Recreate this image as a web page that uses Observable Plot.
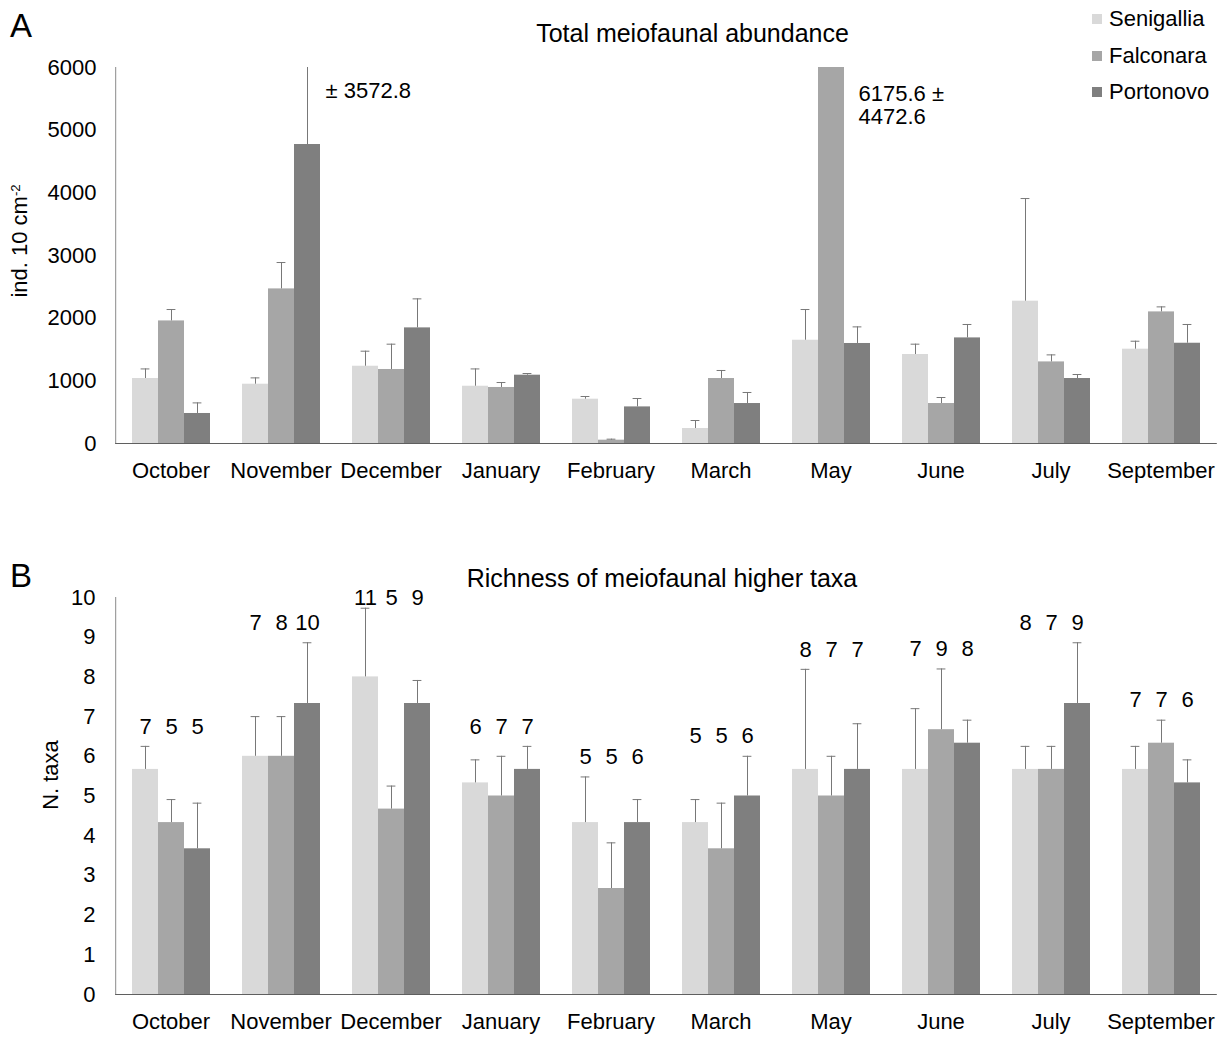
<!DOCTYPE html>
<html>
<head>
<meta charset="utf-8">
<script src="https://cdn.jsdelivr.net/npm/d3@7"></script>
<script src="https://cdn.jsdelivr.net/npm/@observablehq/plot@0.6"></script>
<style>
  html, body { margin: 0; padding: 0; background: #fff; }
  #wrap { position: relative; width: 1229px; height: 1039px; overflow: hidden;
          font-family: "Liberation Sans", Arial, sans-serif; color: #000; }
  #wrap svg { position: absolute; left: 0; }
  .txt { position: absolute; line-height: 1; white-space: nowrap; }
  .swatch { position: absolute; width: 10px; height: 10px; }
</style>
</head>
<body>
<div id="wrap"></div>
<script>
// Sampling months and sites
const months = ["October", "November", "December", "January", "February",
                "March", "May", "June", "July", "September"];
const sites = ["Senigallia", "Falconara", "Portonovo"];
const siteColors = ["#d9d9d9", "#a6a6a6", "#7f7f7f"];

// Total meiofaunal abundance (ind. 10 cm-2), mean and standard deviation
const abundanceSenigallia   = [1037, 946, 1233, 914, 707, 239, 1648, 1420, 2271, 1505];
const abundanceSenigalliaSd = [153, 101, 240, 276, 43, 128, 490, 165, 1638, 127];
const abundanceFalconara    = [1956, 2467, 1181, 894, 53, 1037, 6175.6, 638, 1302, 2100];
const abundanceFalconaraSd  = [182, 421, 404, 79, 16, 128, 4472.6, 96, 112, 80];
const abundancePortonovo    = [479, 4771, 1845, 1090, 584, 638, 1596, 1685, 1037, 1600];
const abundancePortonovoSd  = [169, 3572.8, 463, 27, 134, 176, 265, 214, 64, 299];
const abundanceTicks = [0, 1000, 2000, 3000, 4000, 5000, 6000];

// Richness of meiofaunal higher taxa: mean, standard deviation, total taxa found
const richnessSenigallia   = [5.67, 6, 8, 5.33, 4.33, 4.33, 5.67, 5.67, 5.67, 5.67];
const richnessSenigalliaSd = [0.58, 1, 1.73, 0.58, 1.15, 0.58, 2.52, 1.53, 0.58, 0.58];
const richnessFalconara    = [4.33, 6, 4.67, 5, 2.67, 3.67, 5, 6.67, 5.67, 6.33];
const richnessFalconaraSd  = [0.58, 1, 0.58, 1, 1.15, 1.15, 1, 1.53, 0.58, 0.58];
const richnessPortonovo    = [3.67, 7.33, 7.33, 5.67, 4.33, 5, 5.67, 6.33, 7.33, 5.33];
const richnessPortonovoSd  = [1.15, 1.53, 0.58, 0.58, 0.58, 1, 1.15, 0.58, 1.53, 0.58];
const taxaSenigallia = [7, 7, 11, 6, 5, 5, 8, 7, 8, 7];
const taxaFalconara  = [5, 8, 5, 7, 5, 5, 7, 9, 7, 7];
const taxaPortonovo  = [5, 10, 9, 7, 6, 6, 7, 8, 9, 6];
const richnessTicks = [0, 1, 2, 3, 4, 5, 6, 7, 8, 9, 10];

// Off-scale values annotated in panel A
const abundanceNotes = [
  {month: "November", site: "Portonovo", withMean: false},
  {month: "May", site: "Falconara", withMean: true}
];

function buildRows(means, sds, counts) {
  const rows = [];
  months.forEach((month, i) => sites.forEach((site, j) => {
    rows.push({month, site, mean: means[j][i], sd: sds[j][i], count: counts ? counts[j][i] : null});
  }));
  return rows;
}

const rowsA = buildRows(
  [abundanceSenigallia, abundanceFalconara, abundancePortonovo],
  [abundanceSenigalliaSd, abundanceFalconaraSd, abundancePortonovoSd]);
const rowsB = buildRows(
  [richnessSenigallia, richnessFalconara, richnessPortonovo],
  [richnessSenigalliaSd, richnessFalconaraSd, richnessPortonovoSd],
  [taxaSenigallia, taxaFalconara, taxaPortonovo]);

// Labels of total taxa sit a little above the highest error bar of each month
const groupTop = d3.rollup(rowsB, v => d3.max(v, d => d.mean + d.sd), d => d.month);
rowsB.forEach(d => { d.labelY = Math.min(groupTop.get(d.month) + 0.5, 10); });

const fmt1 = d3.format(".1f");
const noteRows = abundanceNotes.map(n => {
  const r = rowsA.find(d => d.month === n.month && d.site === n.site);
  return {...r, text: n.withMean ? `${fmt1(r.mean)} ±\n${fmt1(r.sd)}` : `± ${fmt1(r.sd)}`};
});

const FONT = "Liberation Sans, Arial, sans-serif";
const W = 1229;
// The facet bands start inside the axis lines; the axis lines reach out to the plot edges
const AXIS_OUT = 15.8;

function groupedBars({rows, height, marginTop, marginBottom, yDomain, ticks, tickPadding, extra}) {
  return Plot.plot({
    width: W, height, marginTop, marginBottom, marginLeft: 114, marginRight: 13,
    style: {fontFamily: FONT, fontSize: "22px", color: "#000", background: "transparent"},
    fx: {domain: months, paddingInner: 0.286, paddingOuter: 0.143, label: null},
    x: {domain: sites, padding: 0, axis: null},
    y: {domain: yDomain, label: null},
    color: {domain: sites, range: siteColors},
    marks: [
      Plot.axisY({ticks, tickSize: 0, tickPadding, tickFormat: d => String(d), label: null}),
      Plot.axisFx({anchor: "bottom", tickSize: 0, tickPadding: 19, label: null}),
      Plot.barY(rows, {fx: "month", x: "site", y: "mean", fill: "site", clip: true}),
      Plot.ruleX(rows, {fx: "month", x: "site", y1: "mean", y2: d => d.mean + d.sd,
                        stroke: "#787878", strokeWidth: 1, clip: true}),
      Plot.tickY(rows, {fx: "month", x: "site", y: d => d.mean + d.sd, stroke: "#787878",
                        strokeWidth: 1, insetLeft: 8.6, insetRight: 8.6, clip: true}),
      Plot.frame({anchor: "left", facet: "super", stroke: "#8a8a8a", insetLeft: -AXIS_OUT}),
      Plot.frame({anchor: "bottom", facet: "super", stroke: "#5f5f5f",
                  insetLeft: -AXIS_OUT, insetRight: -AXIS_OUT}),
      ...extra
    ]
  });
}

const chartA = groupedBars({
  rows: rowsA, height: 500, marginTop: 67, marginBottom: 57,
  yDomain: [0, 6000], ticks: abundanceTicks, tickPadding: 35,
  extra: [
    Plot.text(noteRows.filter(d => !d.text.includes("\n")),
      {fx: "month", x: "site", text: "text", frameAnchor: "top", textAnchor: "start", dx: 18, dy: 15}),
    Plot.text(noteRows.filter(d => d.text.includes("\n")),
      {fx: "month", x: "site", text: "text", frameAnchor: "top", textAnchor: "start",
       lineAnchor: "top", lineHeight: 1.05, dx: 27, dy: 17})
  ]
});

const chartB = groupedBars({
  rows: rowsB, height: 499, marginTop: 57, marginBottom: 45,
  yDomain: [0, 10], ticks: richnessTicks, tickPadding: 36,
  extra: [
    Plot.text(rowsB, {fx: "month", x: "site", y: "labelY", text: "count"})
  ]
});

const wrap = document.getElementById("wrap");
chartA.style.top = "0px";
chartB.style.top = "540px";
wrap.append(chartA, chartB);

// Text placed by baseline: line-height 1 puts the baseline ~0.8465em below the box top
function addText(str, {x, baseline, size, anchor = "start", html = false}) {
  const el = document.createElement("div");
  el.className = "txt";
  el.style.fontSize = size + "px";
  el.style.top = (baseline - 0.8465 * size) + "px";
  el.style.left = x + "px";
  if (anchor === "middle") el.style.transform = "translateX(-50%)";
  if (html) el.innerHTML = str; else el.textContent = str;
  wrap.append(el);
  return el;
}
function addVerticalText(str, {cx, cy, size, html = false}) {
  const el = document.createElement("div");
  el.className = "txt";
  el.style.fontSize = size + "px";
  el.style.left = cx + "px";
  el.style.top = cy + "px";
  el.style.transform = "translate(-50%, -50%) rotate(-90deg)";
  if (html) el.innerHTML = str; else el.textContent = str;
  wrap.append(el);
}

// Panel letters and titles
addText("A", {x: 10, baseline: 37, size: 33});
addText("B", {x: 10, baseline: 587, size: 33});
addText("Total meiofaunal abundance", {x: 692.5, baseline: 42, size: 25, anchor: "middle"});
addText("Richness of meiofaunal higher taxa", {x: 662, baseline: 587, size: 25, anchor: "middle"});

// Axis titles
addVerticalText('ind. 10 cm<sup style="font-size:0.6em;vertical-align:0.6em">-2</sup>',
  {cx: 20, cy: 241, size: 22, html: true});
addVerticalText("N. taxa", {cx: 51, cy: 775, size: 22});

// Legend
const legendY = [19, 55.5, 92];
sites.forEach((s, i) => {
  const sw = document.createElement("div");
  sw.className = "swatch";
  sw.style.left = "1092px";
  sw.style.top = (legendY[i] - 5) + "px";
  sw.style.background = siteColors[i];
  wrap.append(sw);
  addText(s, {x: 1109, baseline: legendY[i] + 7.9, size: 22});
});
</script>
</body>
</html>
